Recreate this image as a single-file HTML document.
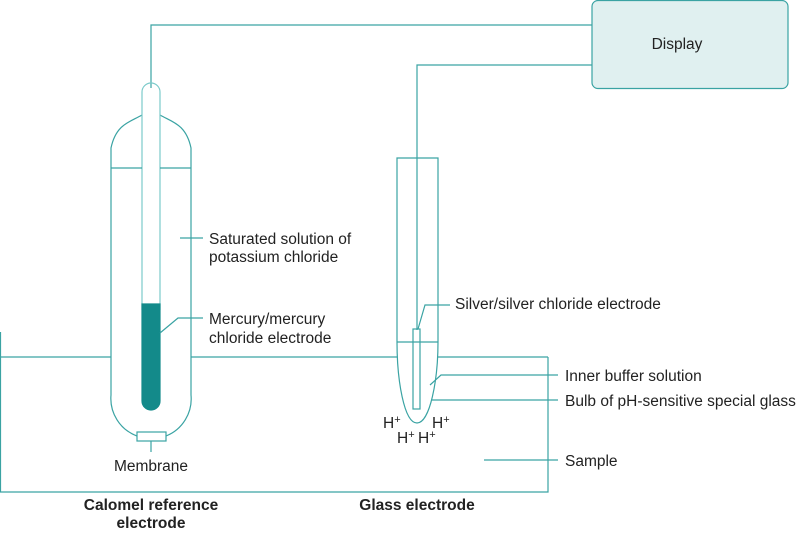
<!DOCTYPE html>
<html><head><style>body{margin:0;background:#fff}svg{display:block}text{font-family:"Liberation Sans",sans-serif;font-size:15.5px;fill:#222}</style></head><body>
<svg width="798" height="534" viewBox="0 0 798 534" xmlns="http://www.w3.org/2000/svg">
<g fill="none" stroke="#3aa3a3" stroke-width="1.2">
<rect x="592" y="0.5" width="196" height="88" rx="6" fill="#e0f0f0"/>
<polyline points="151,88 151,25 592,25"/>
<polyline points="417,330 417,65 592,65"/>
<path d="M142,115 C130,122 116,124 111,148 L111,395 A40,40 0 0 0 137,436 M166,436 A40,40 0 0 0 191,395 L191,148 C186,124 172,122 160,115"/>
<path d="M142,310 L142,92 A9,9 0 0 1 160,92 L160,310" stroke="#7ccaca"/>
<line x1="111" y1="168" x2="142" y2="168"/><line x1="160" y1="168" x2="191" y2="168"/>
<path d="M142,304 L160,304 L160,401 A9,9 0 0 1 142,401 Z" fill="#138a8a" stroke="#138a8a"/>
<rect x="137" y="432" width="29" height="9"/>
<line x1="151" y1="441" x2="151" y2="452"/>
<polyline points="0.5,332 0.5,492 548,492 548,357"/>
<line x1="0" y1="357" x2="111" y2="357"/><line x1="191" y1="357" x2="397" y2="357"/><line x1="438" y1="357" x2="548" y2="357"/>
<path d="M397,158 L438,158 L438,342 C438,380 430,423 417,423 C404,423 397,380 397,342 Z"/>
<line x1="397" y1="342" x2="438" y2="342"/>
<rect x="413" y="329" width="7" height="80"/>
<polyline points="418,329 425,305 450,305"/>
<polyline points="430,385 441,375 558,375"/>
<line x1="431" y1="400" x2="558" y2="400"/>
<line x1="484" y1="460" x2="558" y2="460"/>
<line x1="180" y1="238" x2="203" y2="238"/>
<polyline points="160,333 178,318 203,318"/>
</g>
<text x="677" y="49" text-anchor="middle">Display</text>
<text x="209" y="244">Saturated solution of</text>
<text x="209" y="262">potassium chloride</text>
<text x="209" y="324">Mercury/mercury</text>
<text x="209" y="343">chloride electrode</text>
<text x="455" y="309">Silver/silver chloride electrode</text>
<text x="565" y="381">Inner buffer solution</text>
<text x="565" y="406">Bulb of pH-sensitive special glass</text>
<text x="565" y="466">Sample</text>
<text x="151" y="471" text-anchor="middle">Membrane</text>
<text x="383" y="428">H<tspan font-size="11" dy="-5">+</tspan></text>
<text x="432" y="428">H<tspan font-size="11" dy="-5">+</tspan></text>
<text x="397" y="443">H<tspan font-size="11" dy="-5">+</tspan></text>
<text x="418" y="443">H<tspan font-size="11" dy="-5">+</tspan></text>
<text x="151" y="510" text-anchor="middle" font-weight="bold">Calomel reference</text>
<text x="151" y="528" text-anchor="middle" font-weight="bold">electrode</text>
<text x="417" y="510" text-anchor="middle" font-weight="bold">Glass electrode</text>
</svg>
</body></html>
